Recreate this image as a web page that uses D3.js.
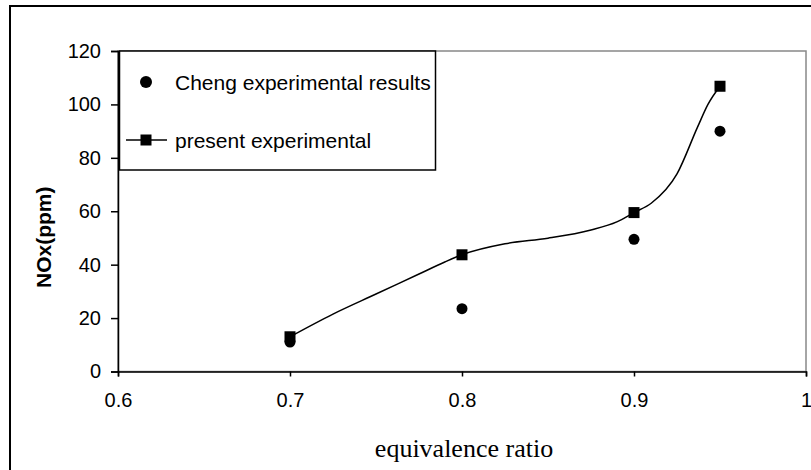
<!DOCTYPE html>
<html><head><meta charset="utf-8">
<script src="https://cdn.jsdelivr.net/npm/d3@7"></script>
<style>body{margin:0;background:#fff}svg{display:block}</style>
</head><body>
<script>
const chengX = [0.7, 0.8, 0.9, 0.95];
const chengY = [11, 23.5, 49.5, 90];
const presentX = [0.7, 0.8, 0.9, 0.95];
const presentY = [13, 43.7, 59.5, 106.8];
const lineX = [0.7, 0.725, 0.75, 0.775, 0.79, 0.8, 0.825, 0.85, 0.875, 0.89, 0.9, 0.91, 0.925, 0.937, 0.943, 0.95];
const lineY = [13, 21.5, 29, 36.5, 41, 43.7, 47.8, 49.9, 53, 56, 59.5, 63, 74, 91.6, 100, 106.8];
const xTicks = [0.6, 0.7, 0.8, 0.9, 1];
const yTicks = [0, 20, 40, 60, 80, 100, 120];
const legendLabels = ["Cheng experimental results", "present experimental"];

(function () {
const W = 811, H = 470;
const svg = d3.select("body").append("svg").attr("width", W).attr("height", H);
const pL = 118, pR = 806, pT = 51, pB = 371.5;
const x = d3.scaleLinear().domain([0.6, 1]).range([pL, pR]);
const y = d3.scaleLinear().domain([0, 120]).range([pB, pT]);

// outer border
svg.append("rect").attr("x", 10).attr("y", 6).attr("width", W + 10).attr("height", H + 10)
  .attr("fill", "none").attr("stroke", "#000").attr("stroke-width", 2);

// plot border (grey)
svg.append("rect").attr("x", pL).attr("y", pT).attr("width", pR - pL).attr("height", pB - pT)
  .attr("fill", "none").attr("stroke", "#888").attr("stroke-width", 1.5);

// axes
const xAxis = d3.axisBottom(x).tickValues(xTicks).tickSize(5).tickPadding(16).tickFormat(d => d3.format("")(d));
const gx = svg.append("g").attr("transform", `translate(0,${pB})`).call(xAxis);
gx.select(".domain").attr("stroke", "#000").attr("stroke-width", 1.5);
gx.selectAll(".tick line").attr("stroke", "#000").attr("stroke-width", 1.5);
gx.selectAll("text").attr("font-family", "Liberation Sans, Arial, sans-serif").attr("font-size", 20).attr("fill", "#000");

const yAxis = d3.axisLeft(y).tickValues(yTicks).tickSize(7).tickPadding(10);
const gy = svg.append("g").attr("transform", `translate(${pL},0)`).call(yAxis);
gy.select(".domain").attr("stroke", "#000").attr("stroke-width", 1.5);
gy.selectAll(".tick line").attr("stroke", "#000").attr("stroke-width", 1.5);
gy.selectAll("text").attr("font-family", "Liberation Sans, Arial, sans-serif").attr("font-size", 20).attr("fill", "#000");

// axis titles
svg.append("text").attr("x", (pL + pR) / 2 + 2).attr("y", 457).attr("text-anchor", "middle")
  .attr("font-family", "Liberation Serif, Times New Roman, serif").attr("font-size", 26).text("equivalence ratio");
svg.append("text").attr("transform", `translate(51,${(pT + pB) / 2 + 26}) rotate(-90)`).attr("text-anchor", "middle")
  .attr("font-family", "Liberation Sans, Arial, sans-serif").attr("font-weight", "bold").attr("font-size", 21).text("NOx(ppm)");

// line
const lineData = lineX.map((v, i) => [v, lineY[i]]);
svg.append("path").datum(lineData)
  .attr("d", d3.line().x(d => x(d[0])).y(d => y(d[1])).curve(d3.curveMonotoneX))
  .attr("fill", "none").attr("stroke", "#000").attr("stroke-width", 1.5);

// present squares
const sq = 11;
svg.selectAll("rect.sq").data(presentX.map((v, i) => [v, presentY[i]])).enter().append("rect")
  .attr("x", d => x(d[0]) - sq / 2).attr("y", d => y(d[1]) - sq / 2).attr("width", sq).attr("height", sq).attr("fill", "#000");

// cheng circles
svg.selectAll("circle.c").data(chengX.map((v, i) => [v, chengY[i]])).enter().append("circle")
  .attr("cx", d => x(d[0])).attr("cy", d => y(d[1])).attr("r", 5.5).attr("fill", "#000");

// legend
const lg = svg.append("g");
lg.append("rect").attr("x", 119.5).attr("y", 51).attr("width", 316).attr("height", 119)
  .attr("fill", "#fff").attr("stroke", "#000").attr("stroke-width", 1.5);
lg.append("circle").attr("cx", 146).attr("cy", 82).attr("r", 6).attr("fill", "#000");
lg.append("text").attr("x", 175).attr("y", 90).attr("font-family", "Liberation Sans, Arial, sans-serif").attr("font-size", 21).text(legendLabels[0]);
lg.append("line").attr("x1", 126).attr("x2", 167).attr("y1", 140).attr("y2", 140).attr("stroke", "#000").attr("stroke-width", 1.5);
lg.append("rect").attr("x", 146 - sq / 2).attr("y", 140 - sq / 2).attr("width", sq).attr("height", sq).attr("fill", "#000");
lg.append("text").attr("x", 175).attr("y", 148).attr("font-family", "Liberation Sans, Arial, sans-serif").attr("font-size", 21).text(legendLabels[1]);
})();
</script>
</body></html>
